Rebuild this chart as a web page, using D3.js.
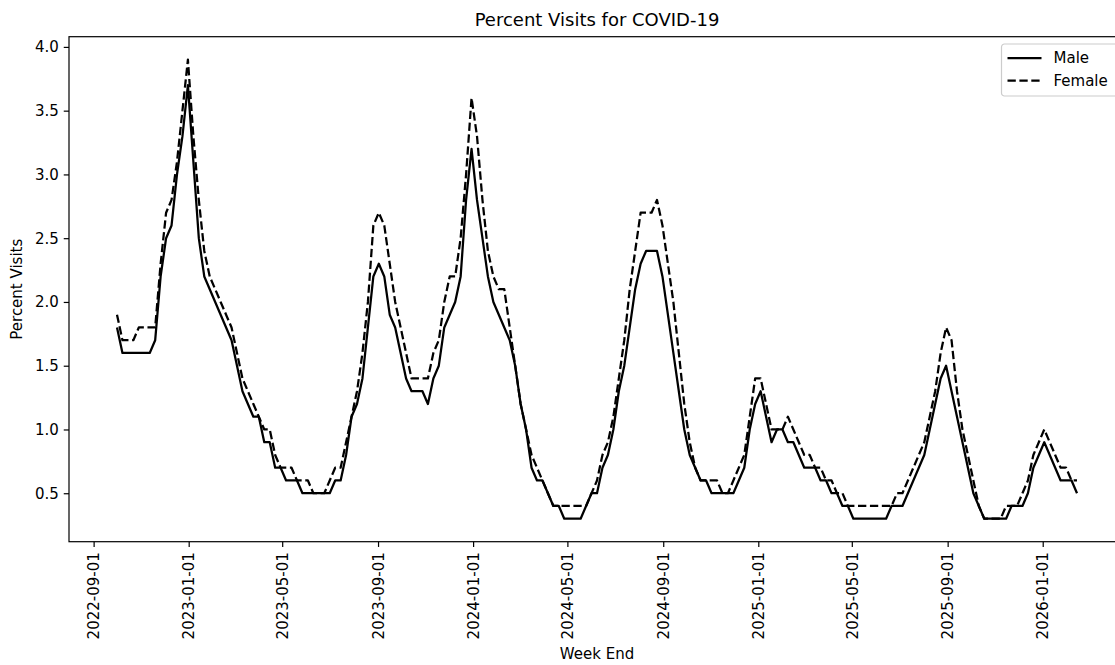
<!DOCTYPE html>
<html>
<head>
<meta charset="utf-8">
<script src="https://cdn.jsdelivr.net/npm/d3@7"></script>
<style>
  body { margin: 0; background: #fff; }
  text { font-family: "DejaVu Sans", sans-serif; fill: #000; }
</style>
</head>
<body>
<svg id="chart"></svg>
<script>
// week ending dates (Saturdays)
const firstWeek = "2022-10-01";
const lastWeek = "2026-02-14";

// percent visits, one value per week
const male = [
  1.8, 1.6, 1.6, 1.6, 1.6, 1.6, 1.6, 1.7, 2.2, 2.5,
  2.6, 3.0, 3.3, 3.7, 3.1, 2.5, 2.2, 2.1, 2.0, 1.9,
  1.8, 1.7, 1.5, 1.3, 1.2, 1.1, 1.1, 0.9, 0.9, 0.7,
  0.7, 0.6, 0.6, 0.6, 0.5, 0.5, 0.5, 0.5, 0.5, 0.5,
  0.6, 0.6, 0.8, 1.1, 1.2, 1.4, 1.8, 2.2, 2.3, 2.2,
  1.9, 1.8, 1.6, 1.4, 1.3, 1.3, 1.3, 1.2, 1.4, 1.5,
  1.8, 1.9, 2.0, 2.2, 2.8, 3.2, 2.8, 2.5, 2.2, 2.0,
  1.9, 1.8, 1.7, 1.5, 1.2, 1.0, 0.7, 0.6, 0.6, 0.5,
  0.4, 0.4, 0.3, 0.3, 0.3, 0.3, 0.4, 0.5, 0.5, 0.7,
  0.8, 1.0, 1.3, 1.5, 1.8, 2.1, 2.3, 2.4, 2.4, 2.4,
  2.2, 1.9, 1.6, 1.3, 1.0, 0.8, 0.7, 0.6, 0.6, 0.5,
  0.5, 0.5, 0.5, 0.5, 0.6, 0.7, 1.0, 1.2, 1.3, 1.1,
  0.9, 1.0, 1.0, 0.9, 0.9, 0.8, 0.7, 0.7, 0.7, 0.6,
  0.6, 0.5, 0.5, 0.4, 0.4, 0.3, 0.3, 0.3, 0.3, 0.3,
  0.3, 0.3, 0.4, 0.4, 0.4, 0.5, 0.6, 0.7, 0.8, 1.0,
  1.2, 1.4, 1.5, 1.3, 1.1, 0.9, 0.7, 0.5, 0.4, 0.3,
  0.3, 0.3, 0.3, 0.3, 0.4, 0.4, 0.4, 0.5, 0.7, 0.8,
  0.9, 0.8, 0.7, 0.6, 0.6, 0.6, 0.5
];
const female = [
  1.9, 1.7, 1.7, 1.7, 1.8, 1.8, 1.8, 1.8, 2.3, 2.7,
  2.8, 3.1, 3.5, 3.9, 3.3, 2.8, 2.4, 2.2, 2.1, 2.0,
  1.9, 1.8, 1.6, 1.4, 1.3, 1.2, 1.1, 1.0, 1.0, 0.8,
  0.7, 0.7, 0.7, 0.6, 0.6, 0.6, 0.5, 0.5, 0.5, 0.6,
  0.7, 0.7, 0.9, 1.1, 1.3, 1.6, 2.0, 2.6, 2.7, 2.6,
  2.3, 2.0, 1.8, 1.6, 1.4, 1.4, 1.4, 1.4, 1.6, 1.7,
  2.0, 2.2, 2.2, 2.5, 3.0, 3.6, 3.3, 2.8, 2.4, 2.2,
  2.1, 2.1, 1.8, 1.5, 1.2, 1.0, 0.8, 0.7, 0.6, 0.5,
  0.4, 0.4, 0.4, 0.4, 0.4, 0.4, 0.4, 0.5, 0.6, 0.8,
  0.9, 1.1, 1.4, 1.7, 2.1, 2.4, 2.7, 2.7, 2.7, 2.8,
  2.6, 2.3, 2.0, 1.6, 1.2, 0.9, 0.7, 0.6, 0.6, 0.6,
  0.6, 0.5, 0.5, 0.6, 0.7, 0.8, 1.1, 1.4, 1.4, 1.2,
  1.0, 1.0, 1.0, 1.1, 1.0, 0.9, 0.8, 0.8, 0.7, 0.7,
  0.6, 0.6, 0.5, 0.5, 0.4, 0.4, 0.4, 0.4, 0.4, 0.4,
  0.4, 0.4, 0.4, 0.5, 0.5, 0.6, 0.7, 0.8, 0.9, 1.1,
  1.3, 1.6, 1.8, 1.7, 1.3, 1.0, 0.8, 0.6, 0.4, 0.3,
  0.3, 0.3, 0.3, 0.4, 0.4, 0.4, 0.5, 0.6, 0.8, 0.9,
  1.0, 0.9, 0.8, 0.7, 0.7, 0.6, 0.6
];

// tick labels
const xTickLabels = ["2022-09-01", "2023-01-01", "2023-05-01", "2023-09-01", "2024-01-01",
  "2024-05-01", "2024-09-01", "2025-01-01", "2025-05-01", "2025-09-01", "2026-01-01"];
const yTicks = [0.5, 1.0, 1.5, 2.0, 2.5, 3.0, 3.5, 4.0];

const series = [
  { name: "Male", values: male, dash: null },
  { name: "Female", values: female, dash: "8.3,3.6" }
];

const width = 1115, height = 665;
const margin = { left: 69, top: 36.7, right: 1125, bottom: 541.7 };
const parse = d3.utcParse("%Y-%m-%d");

let svg = d3.select("#chart").attr("width", width).attr("height", height);

// weekly dates
let start = parse(firstWeek), end = parse(lastWeek);
let weeks = d3.utcSaturday.range(start, d3.utcDay.offset(end, 1));

// scales with 5% padding like matplotlib
let span = end - start;
let xScale = d3.scaleUtc()
  .domain([new Date(+start - span * 0.05), new Date(+end + span * 0.05)])
  .range([margin.left, margin.right]);
let allVals = male.concat(female);
let vMin = d3.min(allVals), vMax = d3.max(allVals), vPad = (vMax - vMin) * 0.05;
let yScale = d3.scaleLinear().domain([vMin - vPad, vMax + vPad]).range([margin.bottom, margin.top]);

// y axis
let yAxis = svg.append("g")
  .attr("transform", "translate(" + margin.left + ",0)")
  .call(d3.axisLeft(yScale).tickValues(yTicks).tickFormat(d3.format(".1f")).tickSize(5.25).tickPadding(5));
yAxis.select(".domain").remove();
yAxis.selectAll("line").attr("stroke", "#000").attr("stroke-width", 1.2);
yAxis.selectAll("text").attr("font-size", 15).attr("fill", "#000");

// x axis with rotated labels
let xAxis = svg.append("g")
  .attr("transform", "translate(0," + margin.bottom + ")")
  .call(d3.axisBottom(xScale).tickValues(xTickLabels.map(parse)).tickFormat(d3.utcFormat("%Y-%m-%d")).tickSize(5.25));
xAxis.select(".domain").remove();
xAxis.selectAll("line").attr("stroke", "#000").attr("stroke-width", 1.2);
xAxis.selectAll("text")
  .attr("font-size", 15)
  .attr("fill", "#000")
  .attr("transform", "rotate(-90)")
  .attr("x", -10.5)
  .attr("y", 0)
  .attr("dy", "0.35em")
  .style("text-anchor", "end");

// lines
let line = d3.line()
  .x(function (d, i) { return xScale(weeks[i]); })
  .y(function (d) { return yScale(d); });
series.forEach(function (s) {
  svg.append("path")
    .datum(s.values)
    .attr("fill", "none")
    .attr("stroke", "#000")
    .attr("stroke-width", 2.25)
    .attr("stroke-linejoin", "round")
    .attr("stroke-dasharray", s.dash)
    .attr("d", line);
});

// spines
svg.append("rect")
  .attr("x", margin.left).attr("y", margin.top)
  .attr("width", margin.right - margin.left).attr("height", margin.bottom - margin.top)
  .attr("fill", "none").attr("stroke", "#000").attr("stroke-width", 1.2);

// title and axis labels
svg.append("text").attr("x", (margin.left + margin.right) / 2).attr("y", 26)
  .attr("text-anchor", "middle").attr("font-size", 18).text("Percent Visits for COVID-19");
svg.append("text").attr("x", (margin.left + margin.right) / 2).attr("y", 659)
  .attr("text-anchor", "middle").attr("font-size", 15).text("Week End");
svg.append("text")
  .attr("transform", "translate(22," + (margin.top + margin.bottom) / 2 + ") rotate(-90)")
  .attr("text-anchor", "middle").attr("font-size", 15).text("Percent Visits");

// legend
let legend = svg.append("g").attr("transform", "translate(1001.5,44)");
legend.append("rect").attr("width", 130).attr("height", 52).attr("rx", 3)
  .attr("fill", "#fff").attr("fill-opacity", 0.8).attr("stroke", "#ccc").attr("stroke-width", 1.2);
series.forEach(function (s, i) {
  let yy = 14 + i * 22.5;
  legend.append("line").attr("x1", 6).attr("x2", 40).attr("y1", yy).attr("y2", yy)
    .attr("stroke", "#000").attr("stroke-width", 2.25).attr("stroke-dasharray", s.dash);
  legend.append("text").attr("x", 52).attr("y", yy).attr("dy", "0.35em")
    .attr("font-size", 15).text(s.name);
});
</script>
</body>
</html>
